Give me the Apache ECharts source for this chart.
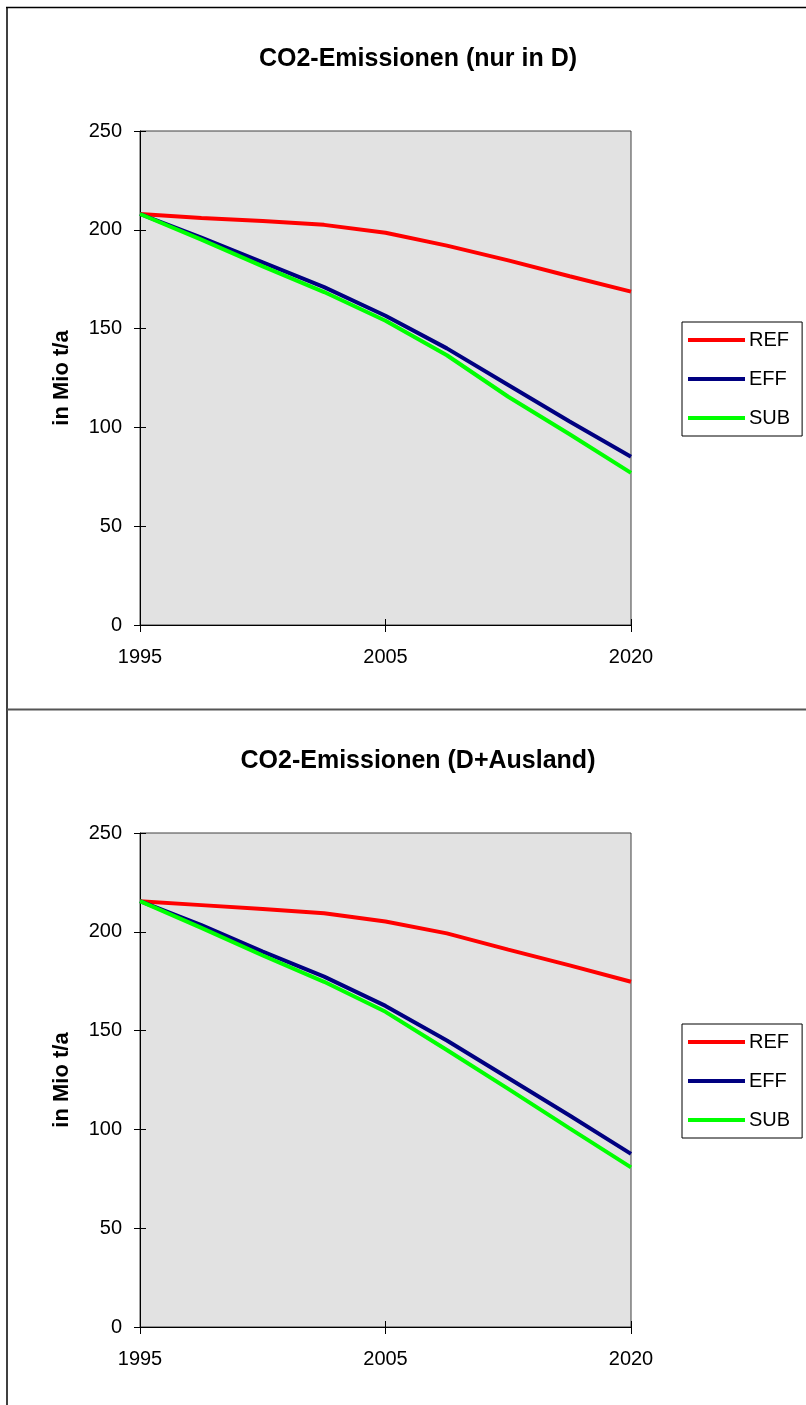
<!DOCTYPE html>
<html>
<head>
<meta charset="utf-8">
<script src="https://cdn.jsdelivr.net/npm/echarts@6/dist/echarts.min.js"></script>
<style>
html,body{margin:0;padding:0;background:#fff;}
#c{width:806px;height:1405px;}
</style>
</head>
<body>
<div id="c"></div>
<script>
// categories (labels shown only at 1995, 2005, 2020)
const years = ['1995','1996','1997','1998','2005','2008','2011','2014','2020'];
const seriesNames = ['REF','EFF','SUB'];
const titles = ['CO2-Emissionen (nur in D)','CO2-Emissionen (D+Ausland)'];
const yTicks = [0,50,100,150,200,250];

// panel 1: nur in D
const refD   = [208, 206, 204.5, 202.5, 198.5, 192, 184.5, 176.5, 168.7];
const effD   = [208, 196, 183.5, 171, 156.5, 140, 121.5, 103, 85.2];
const subD   = [208, 195, 181.5, 168.5, 154, 136.5, 115.5, 96.5, 77];
// panel 2: D + Ausland
const refDA  = [215.5, 213.5, 211.5, 209.4, 205.2, 199.2, 191, 183, 174.7];
const effDA  = [215.5, 203.4, 190, 177.3, 162.5, 145, 126, 107, 87.6];
const subDA  = [215.5, 202, 188, 174.7, 159.5, 140.2, 120.5, 100.5, 80.8];

const colors = ['#ff0000','#000080','#00ff00'];
const FONT = 'Liberation Sans, Arial, sans-serif';

const panels = [
  {top:131, data:[refD,effD,subD], titleY:42, legendTop:322},
  {top:833, data:[refDA,effDA,subDA], titleY:744, legendTop:1024}
];

const grid = [], xAxis = [], yAxis = [], series = [], title = [], legend = [];
panels.forEach((p, i) => {
  grid.push({left:140, top:p.top, width:491, height:494, show:true,
             backgroundColor:'#e2e2e2', borderColor:'#404040', borderWidth:1});
  xAxis.push({type:'category', gridIndex:i, data:years, boundaryGap:false, position:'bottom',
    axisLine:{lineStyle:{color:'#000', width:1}},
    axisTick:{show:true, interval:3, length:7, lineStyle:{color:'#000'}},
    axisLabel:{interval:3, margin:22, color:'#000', fontSize:20, fontFamily:FONT},
    splitLine:{show:false}});
  xAxis.push({type:'category', gridIndex:i, data:years, boundaryGap:false, position:'bottom',
    axisLine:{show:false},
    axisTick:{show:true, inside:true, interval:3, length:6, lineStyle:{color:'#000'}},
    axisLabel:{show:false}, splitLine:{show:false}});
  yAxis.push({type:'value', gridIndex:i, min:0, max:250, interval:50, position:'left',
    name:'in Mio t/a', nameLocation:'middle', nameRotate:90, nameGap:67,
    nameTextStyle:{fontWeight:'bold', fontSize:22, fontFamily:FONT, color:'#000'},
    axisLine:{show:true, lineStyle:{color:'#000'}},
    axisTick:{show:true, length:6, lineStyle:{color:'#000'}},
    axisLabel:{margin:18, color:'#000', fontSize:20, fontFamily:FONT},
    splitLine:{show:false}});
  yAxis.push({type:'value', gridIndex:i, min:0, max:250, interval:50, position:'left',
    axisLine:{show:false},
    axisTick:{show:true, inside:true, length:6, lineStyle:{color:'#000'}},
    axisLabel:{show:false}, splitLine:{show:false}});
  p.data.forEach((d, k) => {
    series.push({type:'line', name:seriesNames[k], xAxisIndex:2*i, yAxisIndex:2*i,
      data:d, showSymbol:false, symbol:'none', smooth:false,
      lineStyle:{color:colors[k], width:4}, itemStyle:{color:colors[k]},
      z:3, animation:false});
  });
  title.push({text:titles[i], left:413, top:p.titleY, textAlign:'center',
    textStyle:{fontSize:25, fontWeight:'bold', fontFamily:FONT, color:'#000'}});
  legend.push({data:seriesNames, orient:'vertical', left:682, top:p.legendTop,
    icon:'rect', itemWidth:57, itemHeight:4, itemGap:19,
    padding:[8,12,8,6], borderColor:'#000', borderWidth:1, backgroundColor:'#fff',
    textStyle:{fontSize:20, fontFamily:FONT, color:'#000', lineHeight:20, padding:[0,0,0,-1]},
    selectedMode:false});
});

const chart = echarts.init(document.getElementById('c'), null, {renderer:'canvas'});
chart.setOption({
  animation:false,
  title, grid, xAxis, yAxis, series, legend,
  graphic:[
    {type:'line', shape:{x1:6, y1:7.5, x2:806, y2:7.5}, style:{stroke:'#000', lineWidth:1.5}},
    {type:'line', shape:{x1:7, y1:7, x2:7, y2:1405}, style:{stroke:'#000', lineWidth:1.5}},
    {type:'line', shape:{x1:7, y1:709.5, x2:806, y2:709.5}, style:{stroke:'#555', lineWidth:2}}
  ]
});
</script>
</body>
</html>
